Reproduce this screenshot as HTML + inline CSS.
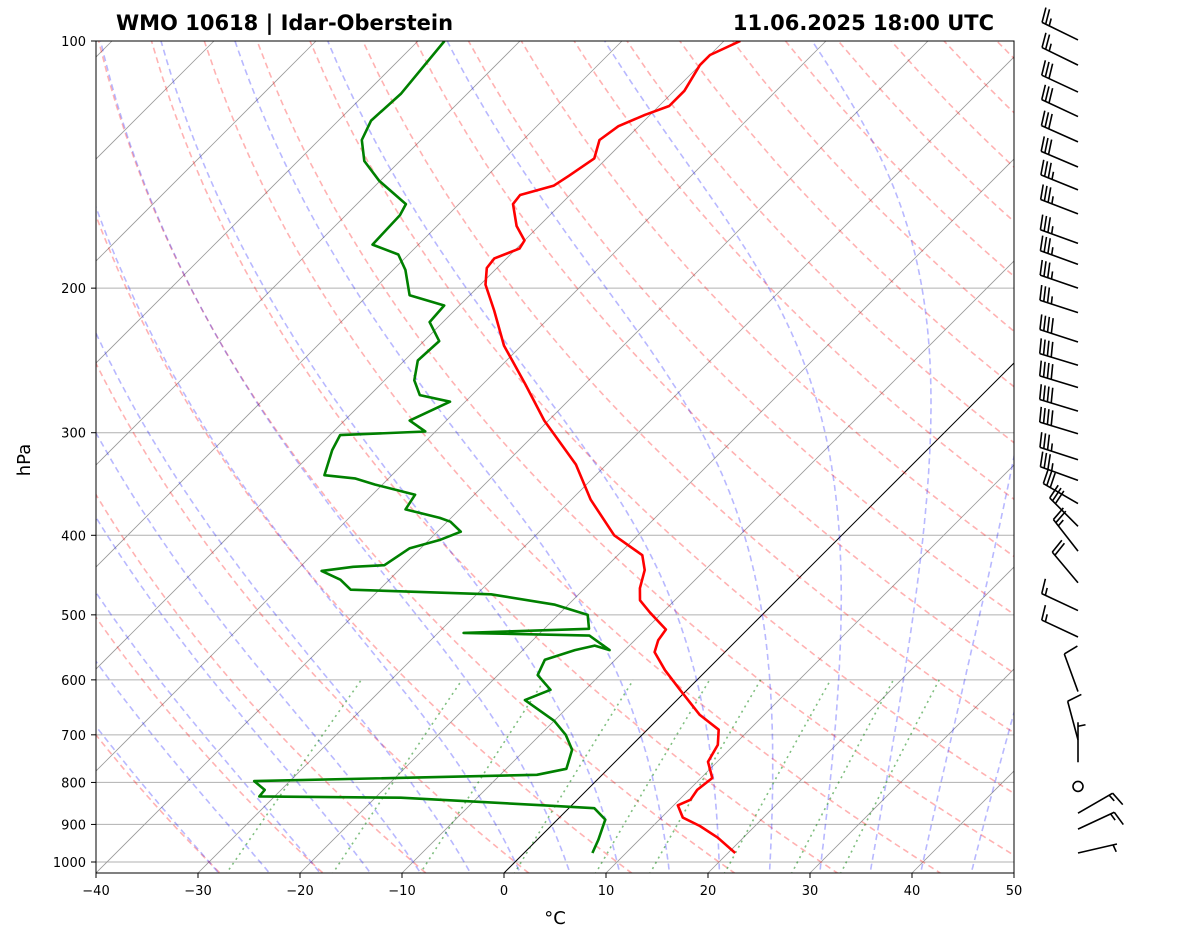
<!DOCTYPE html>
<html><head><meta charset="utf-8"><style>
body{margin:0;background:#fff;}
svg{display:block;font-family:"DejaVu Sans","Liberation Sans",sans-serif;}
</style></head><body>
<svg id="chart" width="1181" height="941" viewBox="0 0 1181 941" xmlns="http://www.w3.org/2000/svg">
<defs><clipPath id="plotclip"><rect x="96" y="41" width="918" height="832"/></clipPath></defs>
<rect width="1181" height="941" fill="#fff"/>
<text x="116" y="30" font-size="21" font-weight="bold">WMO 10618 | Idar-Oberstein</text>
<text x="994" y="30" font-size="21" font-weight="bold" text-anchor="end">11.06.2025 18:00 UTC</text>
<g id="bg" clip-path="url(#plotclip)"></g>
<g id="series" clip-path="url(#plotclip)"></g>
<rect x="96" y="41" width="918" height="832" fill="none" stroke="#000" stroke-width="1"/>
<g id="axes"></g>
<text transform="translate(30,460) rotate(-90)" font-size="18" text-anchor="middle">hPa</text>
<text x="555" y="924" font-size="18" text-anchor="middle">°C</text>
<g id="barbs"></g>
</svg>
<script>
// ---- data ----
const tempP = [975,934,904,883,853,840,817,790,755,720,690,662,617,584,555,537,521,497,480,464,441,423,400,362,328,290,262,235,213,198,189,184,179,175,168,158,154,150,146,139,132,127,123,120,115,107,104,100];
const tempT = [20.7,17.5,14.6,12.1,10.4,11.1,10.8,11.1,9.1,8.4,7.0,3.7,-0.7,-4.1,-6.9,-7.7,-8.0,-11.2,-13.4,-14.6,-15.9,-17.6,-22.3,-28.1,-33.0,-40.4,-45.8,-51.7,-56.1,-59.5,-61.0,-61.2,-59.7,-60.0,-62.2,-64.7,-64.9,-62.5,-62.0,-61.2,-62.5,-62.0,-60.5,-59.0,-59.0,-60.0,-60.0,-58.4];
const dewP = [975,940,888,860,853,835,832,817,797,783,770,730,700,673,635,617,592,567,552,545,552,530,526,520,500,486,472,466,453,442,437,435,415,405,396,385,381,372,357,347,341,338,315,302,299,290,275,270,259,245,232,220,210,204,190,182,177,163,158,148,140,132,125,116,100];
const dewT = [6.7,6.0,4.7,2.5,-2.8,-17.5,-31.5,-31.6,-33.5,-6.4,-4.1,-5.4,-7.5,-10.0,-14.9,-13.4,-16.1,-16.9,-14.9,-13.4,-11.5,-14.9,-27.5,-15.6,-17.1,-21.3,-28.6,-42.8,-44.8,-47.5,-44.8,-41.9,-41.1,-38.9,-37.7,-39.7,-41.1,-45.3,-45.8,-50.7,-53.3,-56.6,-58.3,-59.0,-51.0,-53.6,-51.5,-55.1,-57.1,-58.7,-58.5,-61.3,-61.5,-65.9,-68.8,-71.0,-74.5,-74.7,-75.2,-80.1,-83.5,-85.8,-86.8,-86.5,-87.4];
const barbP = [99.7,107,115.4,123.6,132.7,142.4,151.8,162.4,176.4,187.1,200,214.2,232.6,248.3,264.3,282.4,300.9,323.6,342.9,365.9,390,418.1,457,494,532,620,710,756,809,872,912,975];
const barbDir = [296,296,295,295,294,293,292,291,290,290,289,288,288,287,287,287,287,288,290,300,315,322,320,295,295,340,345,0,0,60,65,77];
const barbSpd = [25,25,30,30,30,30,35,35,35,35,35,35,40,40,40,40,40,35,35,30,30,25,20,15,15,10,10,5,0,15,15,5];
const isoTicksX = [-40,-30,-20,-10,0,10,20,30,40,50];
const pTicks = [100,200,300,400,500,600,700,800,900,1000];

// ---- scales ----
function yOf(p){return 41+821*Math.log10(p/100);}
function xOf(T,p){return 504+10.2*T+(873-yOf(p));}
const NS="http://www.w3.org/2000/svg";
function mk(tag,attrs,parent){const e=document.createElementNS(NS,tag);for(const k in attrs)e.setAttribute(k,attrs[k]);parent.appendChild(e);return e;}
const bg=document.getElementById('bg'),series=document.getElementById('series'),axes=document.getElementById('axes'),barbs=document.getElementById('barbs');
const plevs=[];for(let p=1050;p>=100;p-=10)plevs.push(p);
function path(pts){return pts.map((q,i)=>(i?'L':'M')+q[0].toFixed(1)+','+q[1].toFixed(1)).join('');}

pTicks.forEach(p=>{const l=mk('line',{x1:96,x2:1014,y1:yOf(p),y2:yOf(p),stroke:'#b0b0b0','stroke-width':1},bg);
});
for(let T=-140;T<=50;T+=10){const l=mk('line',{x1:xOf(T,1050),y1:yOf(1050),x2:xOf(T,100),y2:yOf(100),stroke:T===0?'#000':'#999','stroke-width':T===0?1:0.8},bg);
}
for(let t0=-30;t0<=200;t0+=10){const th=t0+273.15;const pts=plevs.map(p=>[xOf(th*Math.pow(p/1000,0.2857)-273.15,p),yOf(p)]);
const e=mk('path',{d:path(pts),fill:'none',stroke:'#ff0000','stroke-opacity':0.3,'stroke-width':1.6,'stroke-dasharray':'6,4'},bg);
}
function es(Tc){return 6.112*Math.exp(17.67*Tc/(Tc+243.5));}
function dTdp(T,p){const Tc=T-273.15;const e=es(Tc);const rs=0.622*e/(p-e);const Rd=287,Lv=2.501e6,Cp=1005;
return (1/p)*(Rd*T+Lv*rs)/(Cp+Lv*Lv*rs*0.622/(Rd*T*T));}
for(let t0=-30;t0<=45;t0+=5){let T=t0+273.15;const pts=[];let p=1050;
let Tb=T;for(let q=1000;q<1050;q+=5){Tb+=dTdp(Tb,q)*5;}
T=Tb;for(p=1050;p>=100;p-=2){pts.push([xOf(T-273.15,p),yOf(p)]);T-=dTdp(T,p)*2;}
const e=mk('path',{d:path(pts),fill:'none',stroke:'#0000ff','stroke-opacity':0.28,'stroke-width':1.6,'stroke-dasharray':'6,4'},bg);
}
[0.0004,0.001,0.002,0.004,0.007,0.01,0.016,0.024,0.032].forEach(w=>{const pts=[];for(let p=1050;p>=600;p-=10){const e=w*p/(0.622+w);const Td=243.5*Math.log(e/6.112)/(17.67-Math.log(e/6.112));pts.push([xOf(Td,p),yOf(p)]);}
const e=mk('path',{d:path(pts),fill:'none',stroke:'#008000','stroke-opacity':0.5,'stroke-width':1.6,'stroke-dasharray':'2,4'},bg);
});

const tl=mk('path',{d:path(tempP.map((p,i)=>[xOf(tempT[i],p),yOf(p)])),fill:'none',stroke:'#ff0000','stroke-width':2.6,'stroke-linejoin':'round'},series);

const dl=mk('path',{d:path(dewP.map((p,i)=>[xOf(dewT[i],p),yOf(p)])),fill:'none',stroke:'#008000','stroke-width':2.6,'stroke-linejoin':'round'},series);


pTicks.forEach(p=>{const y=yOf(p);mk('line',{x1:91,x2:96,y1:y,y2:y,stroke:'#000'},axes);
const t=mk('text',{x:86,y:y+5,'font-size':13,'text-anchor':'end'},axes);t.textContent=p;
});
isoTicksX.forEach(T=>{const x=96+(T+40)*10.2;mk('line',{x1:x,x2:x,y1:873,y2:878,stroke:'#000'},axes);
const t=mk('text',{x:x,y:895,'font-size':13,'text-anchor':'middle'},axes);t.textContent=(T<0?'\u2212'+(-T):T);
});

barbP.forEach((p,i)=>{const y=yOf(p),bx=1078;const s=barbSpd[i];
if(s===0){const c=mk('circle',{cx:bx,cy:y,r:5,fill:'none',stroke:'#000','stroke-width':1.6},barbs);
return;}
const d=barbDir[i]*Math.PI/180;const ux=Math.sin(d),uy=-Math.cos(d);const L=40;
const ex=bx+ux*L,ey=y+uy*L;const px=-uy,py=ux;
const g=mk('g',{},barbs);


mk('line',{x1:bx,y1:y,x2:ex,y2:ey,stroke:'#000','stroke-width':1.6},g);
let rem=Math.round(s/5)*5,k=0;
while(rem>=10){const sx=ex-ux*k*4,sy=ey-uy*k*4;mk('line',{x1:sx,y1:sy,x2:sx+px*15+ux*3,y2:sy+py*15+uy*3,stroke:'#000','stroke-width':1.6},g);rem-=10;k++;}
if(rem>=5){if(k===0)k=1;const sx=ex-ux*k*4,sy=ey-uy*k*4;mk('line',{x1:sx,y1:sy,x2:sx+px*7.5+ux*1.5,y2:sy+py*7.5+uy*1.5,stroke:'#000','stroke-width':1.6},g);}
});
</script>
</body></html>
